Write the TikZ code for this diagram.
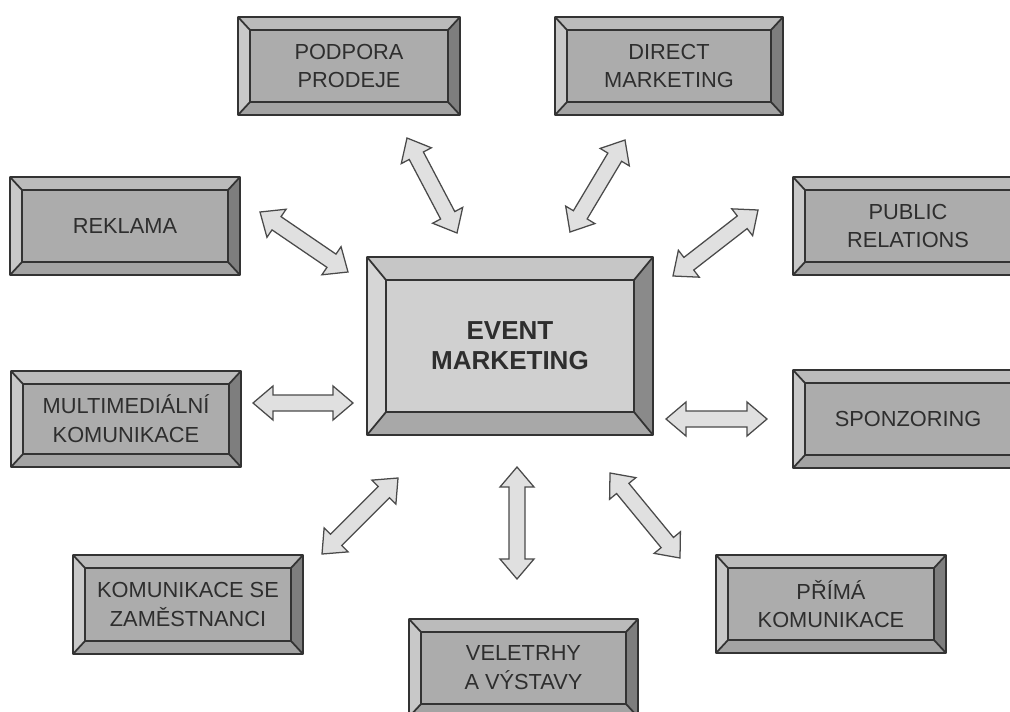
\documentclass[tikz,border=0pt]{standalone}
\usepackage{fontspec}
\setmainfont{Liberation Sans}
\usetikzlibrary{calc}

\definecolor{linegray}{HTML}{333333}
\definecolor{textgray}{HTML}{2E2E2E}
\definecolor{arrowfill}{HTML}{E0E0E0}
\definecolor{arrowline}{HTML}{4A4A4A}
% colours of the small boxes
\definecolor{boxface}{HTML}{ACACAC}
\definecolor{boxtop}{HTML}{BBBBBB}
\definecolor{boxleft}{HTML}{C8C8C8}
\definecolor{boxright}{HTML}{7E7E7E}
\definecolor{boxbottom}{HTML}{A3A3A3}

\tikzset{
  box text/.style={font=\fontsize{15.5}{20.5}\selectfont, text=textgray, align=center},
  main text/.style={font=\bfseries\fontsize{18.5}{21.5}\selectfont, text=textgray, align=center},
  box line/.style={draw=linegray, line width=1.25pt, line join=round},
  link/.style={draw=arrowline, fill=arrowfill, line width=0.9pt, line join=miter},
}

% #2 name, #3 #4 top left, #5 #6 bottom right, #7 #8 bevel, #9 text
\newcommand{\bevelbox}[9][box text]{%
  \coordinate (#2-nw) at (#3,#4);
  \coordinate (#2-ne) at (#5,#4);
  \coordinate (#2-se) at (#5,#6);
  \coordinate (#2-sw) at (#3,#6);
  \coordinate (#2-inw) at ({#3+#7},{#4+#8});
  \coordinate (#2-ine) at ({#5-#7},{#4+#8});
  \coordinate (#2-ise) at ({#5-#7},{#6-#8});
  \coordinate (#2-isw) at ({#3+#7},{#6-#8});
  \fill[boxtop] (#2-nw) -- (#2-ne) -- (#2-ine) -- (#2-inw) -- cycle;
  \fill[boxright] (#2-ne) -- (#2-se) -- (#2-ise) -- (#2-ine) -- cycle;
  \fill[boxbottom] (#2-se) -- (#2-sw) -- (#2-isw) -- (#2-ise) -- cycle;
  \fill[boxleft] (#2-sw) -- (#2-nw) -- (#2-inw) -- (#2-isw) -- cycle;
  \fill[boxface] (#2-inw) rectangle (#2-ise);
  \draw[box line] (#2-nw) rectangle (#2-se) (#2-inw) rectangle (#2-ise)
    (#2-nw) -- (#2-inw) (#2-ne) -- (#2-ine) (#2-se) -- (#2-ise) (#2-sw) -- (#2-isw);
  \node[#1] (#2) at ($(#2-nw)!0.5!(#2-se)$) {#9};
}

% fat double arrow between two coordinates
\newcommand{\headlen}{0.5cm}
\newcommand{\headw}{0.425cm}
\newcommand{\shaftw}{0.2cm}
\newcommand{\twoway}[2]{%
  \draw[link] (#1)
    -- ($(#1)!\headlen!(#2)!\headw!90:(#2)$)
    -- ($(#1)!\headlen!(#2)!\shaftw!90:(#2)$)
    -- ($(#2)!\headlen!(#1)!\shaftw!-90:(#1)$)
    -- ($(#2)!\headlen!(#1)!\headw!-90:(#1)$)
    -- (#2)
    -- ($(#2)!\headlen!(#1)!\headw!90:(#1)$)
    -- ($(#2)!\headlen!(#1)!\shaftw!90:(#1)$)
    -- ($(#1)!\headlen!(#2)!\shaftw!-90:(#2)$)
    -- ($(#1)!\headlen!(#2)!\headw!-90:(#2)$)
    -- cycle;
}

\begin{document}
\begin{tikzpicture}[x=0.025cm, y=-0.025cm]
  \useasboundingbox (0,0) rectangle (1010,711);
  \clip (0,0) rectangle (1010,711);

  % centre
  \begin{scope}
    \definecolor{boxface}{HTML}{D0D0D0}
    \definecolor{boxtop}{HTML}{C6C6C6}
    \definecolor{boxleft}{HTML}{D6D6D6}
    \definecolor{boxright}{HTML}{8A8A8A}
    \definecolor{boxbottom}{HTML}{A8A8A8}
    \bevelbox[main text]{event}{367}{257}{653}{435}{19}{23}{EVENT\\MARKETING}
  \end{scope}

  % outer boxes
  \bevelbox{podpora}{238}{17}{460}{115}{12}{13}{PODPORA\\PRODEJE}
  \bevelbox{direct}{555}{17}{783}{115}{12}{13}{DIRECT\\MARKETING}
  \bevelbox{reklama}{10}{177}{240}{275}{12}{13}{REKLAMA}
  \bevelbox{pr}{793}{177}{1023}{275}{12}{13}{PUBLIC\\RELATIONS}
  \bevelbox{multi}{11}{371}{241}{467}{12}{13}{MULTIMEDIÁLNÍ\\KOMUNIKACE}
  \bevelbox{sponzoring}{793}{370}{1023}{468}{12}{13}{SPONZORING}
  \bevelbox{zamestnanci}{73}{555}{303}{654}{12}{13}{KOMUNIKACE SE\\ZAMĚSTNANCI}
  \bevelbox{prima}{716}{555}{946}{653}{12}{13}{PŘÍMÁ\\KOMUNIKACE}
  \bevelbox{veletrhy}{409}{619}{638}{717}{12}{13}{VELETRHY\\A VÝSTAVY}

  % arrow ends
  \coordinate (podpora-a) at (407,138);
  \coordinate (podpora-b) at (457,233);
  \coordinate (direct-a) at (625,140);
  \coordinate (direct-b) at (570,232);
  \coordinate (reklama-a) at (260,212);
  \coordinate (reklama-b) at (348,272);
  \coordinate (pr-a) at (758,210);
  \coordinate (pr-b) at (673,276);
  \coordinate (multi-a) at (253,403);
  \coordinate (multi-b) at (353,403);
  \coordinate (sponzoring-a) at (767,419);
  \coordinate (sponzoring-b) at (666,419);
  \coordinate (zamestnanci-a) at (322,554);
  \coordinate (zamestnanci-b) at (398,478);
  \coordinate (veletrhy-a) at (517,579);
  \coordinate (veletrhy-b) at (517,467);
  \coordinate (prima-a) at (680,558);
  \coordinate (prima-b) at (610,473);

  \foreach \n in {podpora,direct,reklama,pr,multi,sponzoring,zamestnanci,veletrhy,prima}
    \twoway{\n-a}{\n-b};
\end{tikzpicture}
\end{document}
